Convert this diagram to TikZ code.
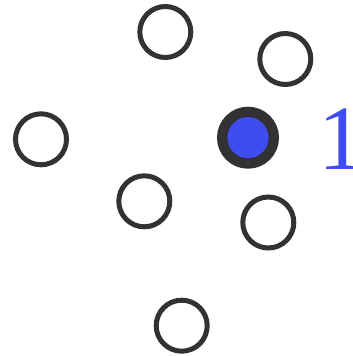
\documentclass[tikz,border=0pt]{standalone}
\usepackage{amssymb,amsmath,tikz}
\usepackage{fontspec}
\newfontfamily\labelfont{Liberation Serif}
\definecolor{ringgray}{RGB}{50,50,52}
\definecolor{markblue}{RGB}{62,76,240}

\begin{document}
\begin{tikzpicture}[x=1pt,y=-1pt]
\tikzstyle{vertex}=[circle,draw=ringgray,line width=5pt,minimum size=51pt,inner sep=0pt]
\tikzstyle{marked}=[vertex,fill=markblue,line width=10.3pt,minimum size=51.7pt]
\useasboundingbox (0,0) rectangle (353,356);

\node[vertex] (0) at (165.3,32) {};
\node[vertex] (1) at (285.3,59) {};
\node[vertex] (2) at (41,139.3) {};
\node[marked] (3) at (248,137.7) {};
\node[vertex] (4) at (144.3,201.3) {};
\node[vertex] (5) at (268.3,222.5) {};
\node[vertex] (6) at (181.7,325.7) {};

\node[text=markblue,font=\labelfont\fontsize{92}{92}\selectfont,inner sep=0pt] (lab) at (341.5,139) {\makebox[20pt]{1}};
\end{tikzpicture}
\end{document}
